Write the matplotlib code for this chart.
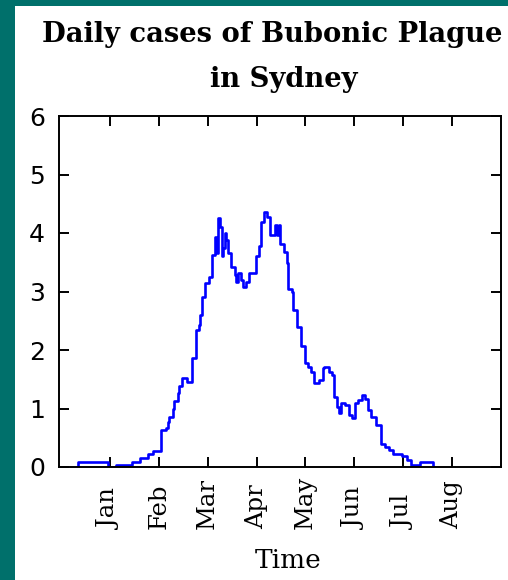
import matplotlib
matplotlib.use('Agg')
import matplotlib.pyplot as plt
from matplotlib.patches import Rectangle
import numpy as np

# Daily case counts, one value per day, first day is 20 days before the Jan tick
case_start_day = -20
daily_cases = [
    0.00, 0.09, 0.09, 0.09, 0.09, 0.09, 0.09, 0.09, 0.09, 0.09,
    0.09, 0.09, 0.09, 0.09, 0.09, 0.09, 0.09, 0.09, 0.09, 0.00,
    0.00, 0.00, 0.00, 0.00, 0.03, 0.03, 0.03, 0.03, 0.03, 0.03,
    0.03, 0.03, 0.03, 0.03, 0.09, 0.09, 0.09, 0.09, 0.09, 0.15,
    0.15, 0.15, 0.15, 0.15, 0.22, 0.22, 0.22, 0.28, 0.28, 0.28,
    0.28, 0.28, 0.63, 0.63, 0.63, 0.66, 0.77, 0.86, 0.86, 0.99,
    1.12, 1.12, 1.26, 1.38, 1.38, 1.52, 1.52, 1.52, 1.46, 1.46,
    1.46, 1.86, 1.86, 2.34, 2.34, 2.43, 2.60, 2.91, 2.91, 3.15,
    3.15, 3.25, 3.25, 3.62, 3.62, 3.94, 3.66, 4.25, 4.10, 3.60,
    3.75, 4.00, 3.88, 3.66, 3.66, 3.42, 3.42, 3.28, 3.17, 3.31,
    3.31, 3.20, 3.08, 3.08, 3.17, 3.17, 3.31, 3.31, 3.31, 3.31,
    3.60, 3.60, 3.77, 4.19, 4.19, 4.36, 4.36, 4.28, 4.28, 3.97,
    3.97, 3.97, 4.14, 3.97, 4.14, 3.82, 3.82, 3.68, 3.68, 3.48,
    3.05, 3.05, 3.00, 2.68, 2.68, 2.40, 2.40, 2.40, 2.06, 2.06,
    1.77, 1.77, 1.71, 1.71, 1.63, 1.63, 1.43, 1.43, 1.43, 1.49,
    1.49, 1.69, 1.71, 1.71, 1.71, 1.63, 1.63, 1.57, 1.20, 1.20,
    1.03, 0.92, 1.09, 1.09, 1.09, 1.06, 1.06, 0.89, 0.89, 0.83,
    0.83, 1.09, 1.09, 1.15, 1.15, 1.23, 1.23, 1.17, 1.17, 0.97,
    0.97, 0.86, 0.86, 0.86, 0.72, 0.72, 0.72, 0.40, 0.40, 0.35,
    0.35, 0.35, 0.29, 0.29, 0.23, 0.23, 0.23, 0.23, 0.23, 0.23,
    0.18, 0.18, 0.18, 0.12, 0.12, 0.03, 0.03, 0.03, 0.03, 0.03,
    0.03, 0.09, 0.09, 0.09, 0.09, 0.09, 0.09, 0.09, 0.09, 0.00,
]

month_names = ['Jan', 'Feb', 'Mar', 'Apr', 'May', 'Jun', 'Jul', 'Aug']
month_days = [0, 30, 60, 90, 120, 150, 180, 210]
y_ticks = [0, 1, 2, 3, 4, 5, 6]

title_lines = ['Daily cases of Bubonic Plague', 'in Sydney']


def _plague_plot():

    vDays = np.arange(case_start_day, case_start_day + len(daily_cases))
    vCases = np.array(daily_cases)

    hFig = plt.figure(figsize=(5.08, 5.80), dpi=100, facecolor='#00706b')

    # white slide panel on the teal background
    hFig.patches.append(Rectangle((15 / 508, 0), 1, (580 - 6) / 580,
                                  transform=hFig.transFigure,
                                  facecolor='white', edgecolor='none', zorder=-10))

    hAx = hFig.add_axes([59 / 508, 113 / 580, 442 / 508, 351 / 580])
    hAx.set_facecolor('white')
    hAx.plot(vDays, vCases, color='#0000ff', linewidth=1.9,
             drawstyle='steps-mid')

    hAx.set_xlim(-31.3, 240.0)
    hAx.set_ylim(0, 6)

    for s in hAx.spines.values():
        s.set_linewidth(1.4)

    # y axis: sans digits, ticks on both sides pointing inwards
    hAx.set_yticks(y_ticks)
    hAx.set_yticklabels([str(v) for v in y_ticks],
                        family=['Liberation Sans Narrow', 'DejaVu Sans'],
                        fontsize=18)
    hAx.tick_params(axis='y', direction='in', length=7, width=1.4,
                    left=True, right=True, pad=10)

    # x axis: month names, rotated, bottom-aligned
    hAx.set_xticks(month_days)
    hAx.set_xticklabels(month_names, family='DejaVu Serif', fontsize=17.5)
    hAx.tick_params(axis='x', direction='in', length=7, width=1.4,
                    bottom=True, top=True, pad=44.6)
    plt.setp(hAx.get_xticklabels(), rotation=90, rotation_mode='anchor',
             ha='left', va='center')

    hAx.set_xlabel('Time', family='DejaVu Serif', fontsize=19)
    hAx.xaxis.set_label_coords((288 - 59) / 442, (467 - 568) / 351)
    hAx.xaxis.label.set_va('baseline')

    # two-line title
    hFig.text(272.5 / 508, (580 - 42) / 580, title_lines[0],
              family='DejaVu Serif', weight='bold', fontsize=19.7,
              ha='center', va='baseline')
    hFig.text(284 / 508, (580 - 87) / 580, title_lines[1],
              family='DejaVu Serif', weight='bold', fontsize=19.7,
              ha='center', va='baseline')

    hFig.savefig('out.png', dpi=100, facecolor=hFig.get_facecolor())


if __name__ == '__main__':
    _plague_plot()
